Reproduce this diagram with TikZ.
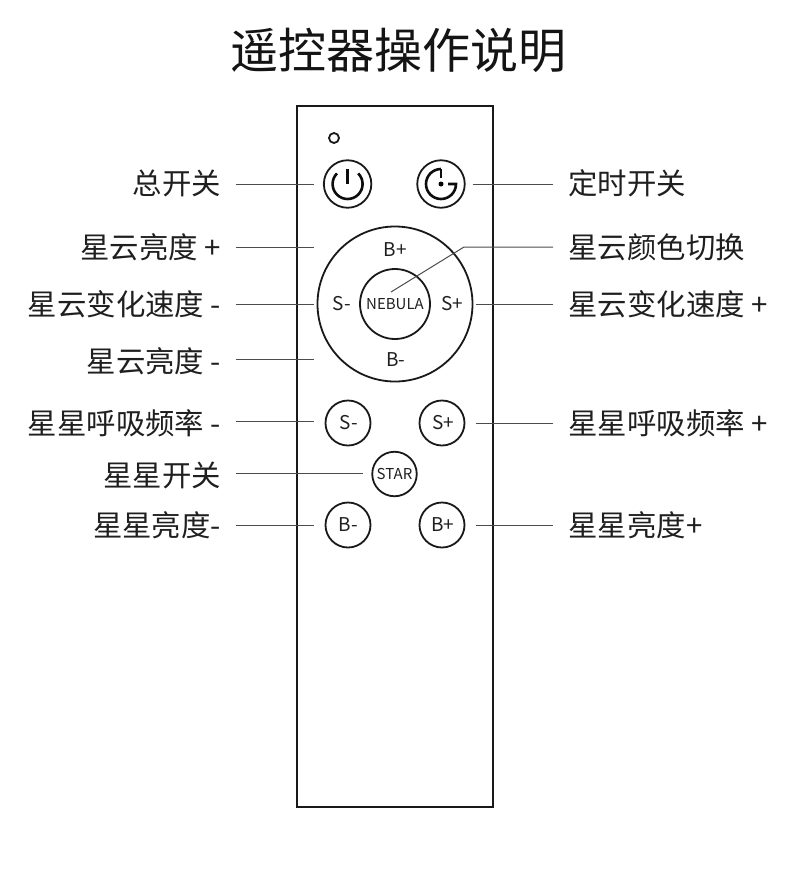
\documentclass[tikz,border=0pt]{standalone}
\usepackage{fontspec}
\setmainfont{Noto Sans CJK SC}
\begin{document}
\begin{tikzpicture}[x=1pt,y=-1pt,
  lab/.style={font=\fontsize{29.4}{31}\selectfont,inner sep=0pt,outer sep=0pt,text=black!88},
  llab/.style={lab,anchor=east},
  rlab/.style={lab,anchor=west},
  btn/.style={draw=black!90,circle,line width=1.8pt,minimum size=#1,inner sep=0pt,outer sep=0pt,font=\fontsize{19}{21}\selectfont,text=black!88},
  lead/.style={draw=black!70,line width=1pt},
  ico/.style={draw=black!95,line width=2.6pt},
  bt/.style={font=\fontsize{19}{21}\selectfont,inner sep=0pt,text=black!88}]
\useasboundingbox (0,0) rectangle (790,879);
\node[font=\fontsize{48}{52}\selectfont,inner sep=0pt,text=black!92] (title) at (398,50) {遥控器操作说明};
\node[draw=black!90,line width=1.8pt,minimum width=196pt,minimum height=701pt,inner sep=0pt,outer sep=0pt] (remote) at (395,456.5) {};
\node[btn=10pt] (led) at (334,138) {};
\node[btn=47.5pt] (power) at (347.6,184) {};
\node[btn=47.5pt] (timer) at (441,184) {};
\draw[ico] (358.2,173.4) arc[start angle=-45,end angle=225,radius=15];
\draw[ico,line width=3pt] (power.center) ++(0,-15) coordinate (pt) -- (power.center);
\draw[ico] (441,169) arc[start angle=270,end angle=0,radius=15] -- (448,184);
\draw[ico] (441,169) -- (441,178);
\fill[black] (timer.center) circle[radius=2.5pt];
% ring
\node[btn=155pt] (ring) at (395,304) {};
\node[btn=70pt,font=\fontsize{15}{17}\selectfont] (neb) at (395,304) {NEBULA};
\node[bt] (rb) at (395.5,250) {B+};
\node[bt] (rbm) at (396,360) {B-};
\node[bt] (rsm) at (341.5,304) {S-};
\node[bt] (rsp) at (452.5,304) {S+};
% small buttons
\node[btn=45pt] (sm) at (348,423) {\hspace{1pt}S-};
\node[btn=45pt] (sp) at (442,423) {\hspace{2pt}S+};
\node[btn=44.5pt,font=\fontsize{15}{17}\selectfont] (star) at (394.5,474) {STAR};
\node[btn=45pt] (bm) at (348,525) {\hspace{1pt}B-};
\node[btn=45pt] (bp) at (442,525) {\hspace{2pt}B+};
% labels
\node[llab] (l1) at (221,183) {总开关};
\node[llab] (l2) at (221,247) {星云亮度 +};
\node[llab] (l3) at (221,304) {星云变化速度 -};
\node[llab] (l4) at (221,361) {星云亮度 -};
\node[llab] (l5) at (221,423) {星星呼吸频率 -};
\node[llab] (l6) at (221,475) {星星开关};
\node[llab] (l7) at (221,525) {星星亮度-};
\node[rlab] (r1) at (568.5,183) {定时开关};
\node[rlab] (r2) at (568.5,247) {星云颜色切换};
\node[rlab] (r3) at (568.5,304) {星云变化速度 +};
\node[rlab] (r5) at (568.5,423) {星星呼吸频率 +};
\node[rlab] (r7) at (568.5,525) {星星亮度+};
% connectors
\coordinate (n1) at (391,292);
\coordinate (n2) at (464,247);
\coordinate (a1) at (314,184); \coordinate (a2) at (314,247);
\coordinate (a3) at (314,304); \coordinate (a4) at (314,359);
\coordinate (a5) at (314,421); \coordinate (a6) at (363,473);
\coordinate (a7) at (314,525);
\coordinate (b1) at (473,184); \coordinate (b3) at (476,304);
\coordinate (b5) at (476,423); \coordinate (b7) at (476,525);
\draw[lead] (l1.east |- a1) ++(15,0) -- (a1);
\draw[lead] (l2.east |- a2) ++(15,0) -- (a2);
\draw[lead] (l3.east |- a3) ++(15,0) -- (a3);
\draw[lead] (l4.east |- a4) ++(15,0) -- (a4);
\draw[lead] (l5.east |- a5) ++(15,0) -- (a5);
\draw[lead] (l6.east |- a6) ++(15,0) -- (a6);
\draw[lead] (l7.east |- a7) ++(15,0) -- (a7);
\draw[lead] (b1) -- ([xshift=-15.5pt]r1.west |- b1);
\draw[lead] (b3) -- ([xshift=-15.5pt]r3.west |- b3);
\draw[lead] (b5) -- ([xshift=-15.5pt]r5.west |- b5);
\draw[lead] (b7) -- ([xshift=-15.5pt]r7.west |- b7);
\draw[lead] (n1) -- (n2) -- ([xshift=-15.5pt]r2.west |- n2);
\end{tikzpicture}
\end{document}
